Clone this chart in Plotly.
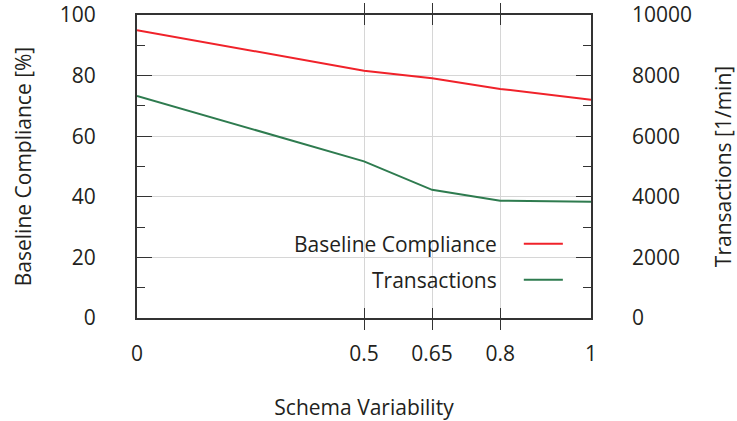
import plotly.graph_objects as go

# Schema variability levels on the x axis
variability = [0, 0.5, 0.65, 0.8, 1]
x_tick_labels = ["0", "0.5", "0.65", "0.8", "1"]

# Baseline compliance in percent (left axis)
compliance = [95.0, 81.6, 79.1, 75.6, 72.0]

# Transactions per minute (right axis)
transactions = [7330, 5170, 4230, 3870, 3840]

RED = "#f0222a"
GREEN = "#2e7b4f"
FRAME = "#333333"
GRID = "#d6d6d6"
TEXT = "#231f20"
FONT = "Open Sans"
FS = 21

fig = go.Figure()
fig.add_trace(go.Scatter(x=variability, y=compliance, mode="lines",
                         name="Baseline Compliance",
                         line=dict(color=RED, width=2), yaxis="y"))
fig.add_trace(go.Scatter(x=variability, y=transactions, mode="lines",
                         name="Transactions",
                         line=dict(color=GREEN, width=2), yaxis="y2"))

# Legend: white box covering the grid, right-aligned labels with samples on the right
shapes = [dict(type="rect", xref="paper", yref="paper",
               x0=0.304, x1=0.965, y0=0.005, y1=0.341,
               fillcolor="white", line=dict(width=0), layer="between")]
annotations = []
legend_rows = [("Baseline Compliance", RED, 0.245),
               ("Transactions", GREEN, 0.126)]
for label, color, yy in legend_rows:
    annotations.append(dict(xref="paper", yref="paper", x=0.797, y=yy,
                            text=label, showarrow=False, xanchor="right",
                            yanchor="middle",
                            font=dict(family=FONT, size=FS, color=TEXT)))
    shapes.append(dict(type="line", xref="paper", yref="paper",
                       x0=0.852, x1=0.938, y0=yy, y1=yy,
                       line=dict(color=color, width=2), layer="above"))

fig.update_layout(
    width=737, height=421,
    margin=dict(l=137, r=146, t=15, b=103, autoexpand=False),
    paper_bgcolor="white", plot_bgcolor="white",
    showlegend=False,
    font=dict(family=FONT, size=FS, color=TEXT),
    shapes=shapes, annotations=annotations,
    xaxis=dict(
        range=[0, 1], tickvals=variability, ticktext=x_tick_labels,
        ticks="inside", ticklen=10, tickwidth=1.3, tickcolor=FRAME,
        showgrid=True, gridcolor=GRID, gridwidth=1.2,
        showline=True, linecolor=FRAME, linewidth=2, mirror="allticks",
        zeroline=False, ticklabelstandoff=16,
        title=dict(text="Schema Variability", standoff=34,
                   font=dict(family=FONT, size=FS, color=TEXT)),
    ),
    yaxis=dict(
        range=[0, 100], dtick=20, tick0=0,
        ticks="inside", ticklen=15, tickwidth=1.3, tickcolor=FRAME,
        minor=dict(dtick=10, ticks="inside", ticklen=8, tickwidth=1.3,
                   tickcolor=FRAME, showgrid=False),
        showgrid=True, gridcolor=GRID, gridwidth=1.2,
        showline=True, linecolor=FRAME, linewidth=2, mirror=True,
        zeroline=False, ticklabelstandoff=35,
        title=dict(text="Baseline Compliance [%]", standoff=22,
                   font=dict(family=FONT, size=FS, color=TEXT)),
    ),
    yaxis2=dict(
        range=[0, 10000], dtick=2000, tick0=0, tickformat="d",
        overlaying="y", side="right",
        ticks="inside", ticklen=15, tickwidth=1.3, tickcolor=FRAME,
        minor=dict(dtick=1000, ticks="inside", ticklen=8, tickwidth=1.3,
                   tickcolor=FRAME, showgrid=False),
        showgrid=False, showline=False, zeroline=False,
        ticklabelstandoff=40,
        title=dict(text="Transactions [1/min]", standoff=26,
                   font=dict(family=FONT, size=FS, color=TEXT)),
    ),
)

fig.write_html("out.html")
